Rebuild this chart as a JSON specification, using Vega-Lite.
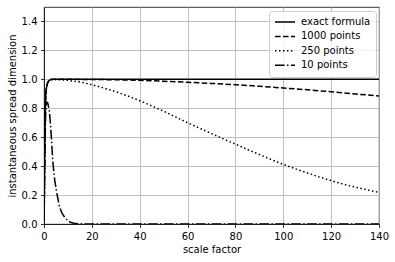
{
  "$schema": "https://vega.github.io/schema/vega-lite/v6.json",
  "width": 335,
  "height": 217,
  "autosize": {"type": "none"},
  "padding": {"left": 44, "top": 7, "right": 16, "bottom": 38},
  "background": "white",
  "config": {
    "font": "DejaVu Sans",
    "view": {"stroke": "black", "strokeWidth": 0.8},
    "axis": {
      "labelFont": "DejaVu Sans", "labelFontSize": 10, "labelColor": "black",
      "titleFont": "DejaVu Sans", "titleFontSize": 10, "titleFontWeight": "normal", "titleColor": "black",
      "domainColor": "black", "domainWidth": 0.8,
      "tickColor": "black", "tickWidth": 0.8, "tickSize": 3.5,
      "labelPadding": 3.5, "labelFlush": false,
      "gridColor": "#b0b0b0", "gridWidth": 0.8, "gridOpacity": 1
    },
    "legend": {
      "labelFont": "DejaVu Sans", "labelFontSize": 10, "labelColor": "black"
    }
  },
  "data": {
    "values": [
      {"series": "exact formula", "x": 0.05, "y": 0.02},
      {"series": "exact formula", "x": 0.15, "y": 0.2},
      {"series": "exact formula", "x": 0.3, "y": 0.5},
      {"series": "exact formula", "x": 0.45, "y": 0.72},
      {"series": "exact formula", "x": 0.6, "y": 0.84},
      {"series": "exact formula", "x": 0.8, "y": 0.91},
      {"series": "exact formula", "x": 1.1, "y": 0.95},
      {"series": "exact formula", "x": 1.5, "y": 0.975},
      {"series": "exact formula", "x": 2.0, "y": 0.99},
      {"series": "exact formula", "x": 2.7, "y": 0.998},
      {"series": "exact formula", "x": 4, "y": 1.0},
      {"series": "exact formula", "x": 20, "y": 1.0},
      {"series": "exact formula", "x": 60, "y": 1.0},
      {"series": "exact formula", "x": 100, "y": 1.0},
      {"series": "exact formula", "x": 140, "y": 1.0},

      {"series": "1000 points", "x": 0.05, "y": 0.02},
      {"series": "1000 points", "x": 0.15, "y": 0.2},
      {"series": "1000 points", "x": 0.3, "y": 0.5},
      {"series": "1000 points", "x": 0.45, "y": 0.72},
      {"series": "1000 points", "x": 0.6, "y": 0.84},
      {"series": "1000 points", "x": 0.8, "y": 0.91},
      {"series": "1000 points", "x": 1.1, "y": 0.95},
      {"series": "1000 points", "x": 1.5, "y": 0.975},
      {"series": "1000 points", "x": 2.0, "y": 0.99},
      {"series": "1000 points", "x": 2.7, "y": 0.998},
      {"series": "1000 points", "x": 4, "y": 1.0},
      {"series": "1000 points", "x": 10, "y": 1.0},
      {"series": "1000 points", "x": 20, "y": 0.999},
      {"series": "1000 points", "x": 30, "y": 0.997},
      {"series": "1000 points", "x": 40, "y": 0.993},
      {"series": "1000 points", "x": 50, "y": 0.987},
      {"series": "1000 points", "x": 60, "y": 0.98},
      {"series": "1000 points", "x": 70, "y": 0.972},
      {"series": "1000 points", "x": 80, "y": 0.963},
      {"series": "1000 points", "x": 90, "y": 0.952},
      {"series": "1000 points", "x": 100, "y": 0.94},
      {"series": "1000 points", "x": 110, "y": 0.928},
      {"series": "1000 points", "x": 120, "y": 0.914},
      {"series": "1000 points", "x": 130, "y": 0.899},
      {"series": "1000 points", "x": 140, "y": 0.885},

      {"series": "250 points", "x": 0.05, "y": 0.02},
      {"series": "250 points", "x": 0.15, "y": 0.2},
      {"series": "250 points", "x": 0.3, "y": 0.5},
      {"series": "250 points", "x": 0.45, "y": 0.72},
      {"series": "250 points", "x": 0.6, "y": 0.84},
      {"series": "250 points", "x": 0.8, "y": 0.91},
      {"series": "250 points", "x": 1.1, "y": 0.95},
      {"series": "250 points", "x": 1.5, "y": 0.975},
      {"series": "250 points", "x": 2.0, "y": 0.99},
      {"series": "250 points", "x": 2.7, "y": 0.998},
      {"series": "250 points", "x": 4, "y": 0.999},
      {"series": "250 points", "x": 10, "y": 0.993},
      {"series": "250 points", "x": 15, "y": 0.982},
      {"series": "250 points", "x": 20, "y": 0.963},
      {"series": "250 points", "x": 25, "y": 0.94},
      {"series": "250 points", "x": 30, "y": 0.915},
      {"series": "250 points", "x": 35, "y": 0.885},
      {"series": "250 points", "x": 40, "y": 0.852},
      {"series": "250 points", "x": 45, "y": 0.817},
      {"series": "250 points", "x": 50, "y": 0.78},
      {"series": "250 points", "x": 55, "y": 0.74},
      {"series": "250 points", "x": 60, "y": 0.70},
      {"series": "250 points", "x": 65, "y": 0.662},
      {"series": "250 points", "x": 70, "y": 0.625},
      {"series": "250 points", "x": 75, "y": 0.588},
      {"series": "250 points", "x": 80, "y": 0.552},
      {"series": "250 points", "x": 85, "y": 0.515},
      {"series": "250 points", "x": 90, "y": 0.48},
      {"series": "250 points", "x": 95, "y": 0.445},
      {"series": "250 points", "x": 100, "y": 0.412},
      {"series": "250 points", "x": 105, "y": 0.382},
      {"series": "250 points", "x": 110, "y": 0.353},
      {"series": "250 points", "x": 115, "y": 0.325},
      {"series": "250 points", "x": 120, "y": 0.30},
      {"series": "250 points", "x": 125, "y": 0.276},
      {"series": "250 points", "x": 130, "y": 0.255},
      {"series": "250 points", "x": 135, "y": 0.236},
      {"series": "250 points", "x": 140, "y": 0.218},

      {"series": "10 points", "x": 0.05, "y": 0.05},
      {"series": "10 points", "x": 0.2, "y": 0.3},
      {"series": "10 points", "x": 0.4, "y": 0.55},
      {"series": "10 points", "x": 0.7, "y": 0.76},
      {"series": "10 points", "x": 1.0, "y": 0.84},
      {"series": "10 points", "x": 1.5, "y": 0.84},
      {"series": "10 points", "x": 2.2, "y": 0.79},
      {"series": "10 points", "x": 2.8, "y": 0.67},
      {"series": "10 points", "x": 3.4, "y": 0.51},
      {"series": "10 points", "x": 3.8, "y": 0.41},
      {"series": "10 points", "x": 4.5, "y": 0.30},
      {"series": "10 points", "x": 5.5, "y": 0.2},
      {"series": "10 points", "x": 6.5, "y": 0.12},
      {"series": "10 points", "x": 7.5, "y": 0.075},
      {"series": "10 points", "x": 8.7, "y": 0.045},
      {"series": "10 points", "x": 10, "y": 0.022},
      {"series": "10 points", "x": 11, "y": 0.012},
      {"series": "10 points", "x": 12.5, "y": 0.005},
      {"series": "10 points", "x": 15, "y": 0.001},
      {"series": "10 points", "x": 20, "y": 0.0},
      {"series": "10 points", "x": 60, "y": 0.0},
      {"series": "10 points", "x": 100, "y": 0.0},
      {"series": "10 points", "x": 140, "y": 0.0}
    ]
  },
  "mark": {"type": "line", "color": "black", "strokeWidth": 1.5, "clip": true},
  "encoding": {
    "x": {
      "field": "x", "type": "quantitative",
      "scale": {"domain": [0, 140], "nice": false, "zero": false},
      "axis": {"values": [0, 20, 40, 60, 80, 100, 120, 140], "title": "scale factor", "titlePadding": 3}
    },
    "y": {
      "field": "y", "type": "quantitative",
      "scale": {"domain": [0, 1.5], "nice": false},
      "axis": {"values": [0, 0.2, 0.4, 0.6, 0.8, 1.0, 1.2, 1.4], "format": ".1f", "title": "instantaneous spread dimension", "titlePadding": 4}
    },
    "strokeDash": {
      "field": "series", "type": "nominal",
      "scale": {
        "domain": ["exact formula", "1000 points", "250 points", "10 points"],
        "range": [[1, 0], [5.55, 2.4], [1.5, 2.475], [9.6, 2.4, 1.5, 2.4]]
      },
      "sort": ["exact formula", "1000 points", "250 points", "10 points"],
      "legend": {
        "title": null,
        "orient": "none",
        "legendX": 225,
        "legendY": 4,
        "symbolType": "stroke",
        "symbolSize": 400,
        "symbolStrokeWidth": 1.5,
        "symbolStrokeColor": "black",
        "labelOffset": 5,
        "clipHeight": 12,
        "rowPadding": 2.4,
        "padding": 5,
        "fillColor": "rgba(255,255,255,0.8)",
        "strokeColor": "#cccccc",
        "cornerRadius": 3
      }
    }
  }
}
